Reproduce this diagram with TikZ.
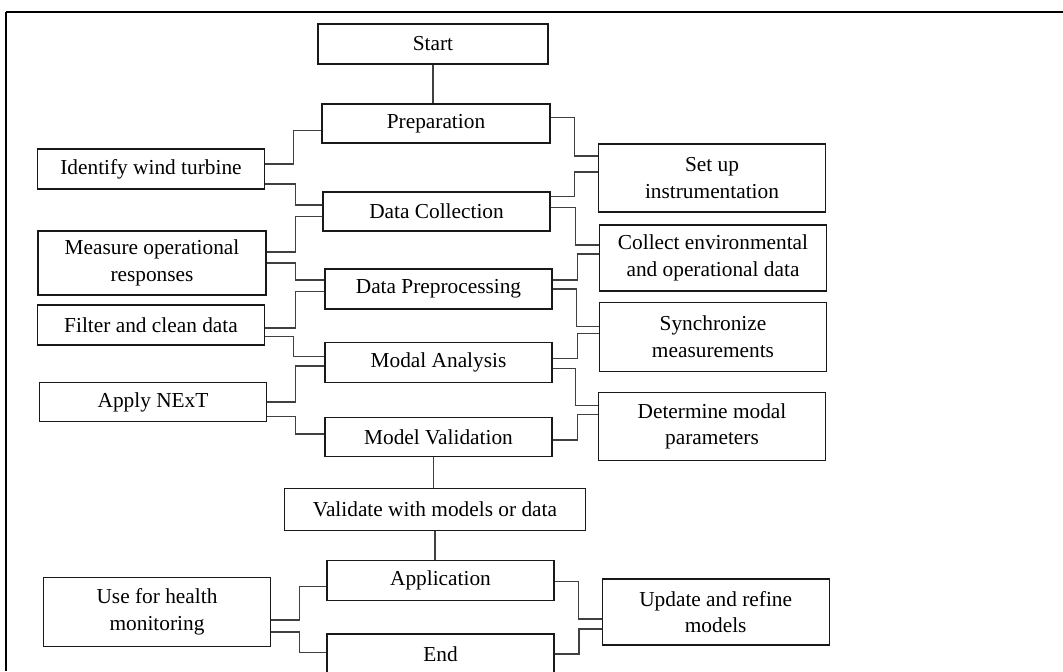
\documentclass[tikz,border=0pt]{standalone}
\usepackage{fontspec}
\setmainfont{Liberation Serif}
\begin{document}
\begin{tikzpicture}[x=0.75pt,y=-0.75pt,
  box/.style={draw=black!90, line width=1pt, inner sep=0pt, align=center,
              font=\fontsize{16}{20}\selectfont},
  sz/.style 2 args={minimum width=#1*0.75pt, minimum height=#2*0.75pt},
  link/.style={draw=black!75, line width=1pt}]
\useasboundingbox (0,0) rectangle (1063,671);

% frame
\draw[line width=2.2pt] (6,12) -- (1063,12);
\draw[line width=1pt] (6,12) -- (6,671);

% main column
\node[box, sz={230}{40}] (start) at (433,44)    {Start};
\node[box, sz={228}{39}] (prep)  at (436,123.5) {Preparation};
\node[box, sz={227}{39}] (coll)  at (436.5,211.5) {Data Collection};
\node[box, sz={227}{40}] (pre)   at (438.5,289) {Data Preprocessing};
\node[box, sz={227}{40}] (modal) at (438.5,362.5) {Modal Analysis};
\node[box, sz={227}{39}] (mval)  at (438.5,437) {Model Validation};
\node[box, sz={301}{42}] (valid) at (435,509.5) {Validate with models or data};
\node[box, sz={227}{40}] (app)   at (440.5,580.7) {Application};
\node[box, sz={227}{40}] (fin)   at (440.5,654) {End};

% left column
\node[box, sz={227}{40}] (ident)  at (151,169) {Identify wind turbine};
\node[box, sz={228}{64}] (meas)   at (152,263) {Measure operational\\responses};
\node[box, sz={227}{40}] (filt)   at (151,325) {Filter and clean data};
\node[box, sz={227}{39}] (next)   at (153,402) {Apply NExT};
\node[box, sz={227}{69}] (health) at (157,612) {Use for health\\monitoring};

% right column
\node[box, sz={227}{68}] (setup)  at (712,178)   {Set up\\instrumentation};
\node[box, sz={227}{66}] (env)    at (713,258)   {Collect environmental\\and operational data};
\node[box, sz={227}{69}] (sync)   at (713,336.7) {Synchronize\\measurements};
\node[box, sz={227}{68}] (param)  at (712,426.5) {Determine modal\\parameters};
\node[box, sz={227}{66}] (update) at (715.7,612) {Update and refine\\models};

% vertical links
\draw[link] (start.south) -- (start.south |- prep.north);
\draw[link] ([xshift=-3.6pt]mval.south) -- ([xshift=-3.6pt]mval.south |- valid.north);
\draw[link] (valid.south) -- (valid.south |- app.north);

% left elbows
\draw[link] ([shift={(0,-5)}]ident.east)   -- ++(28.5,0) |- ([shift={(0,7)}]prep.west);
\draw[link] ([shift={(0,15)}]ident.east)   -- ++(30.5,0) |- ([shift={(0,-6.5)}]coll.west);
\draw[link] ([shift={(0,-11)}]meas.east)   -- ++(29,0)   |- ([shift={(0,5)}]coll.west);
\draw[link] (meas.east)                    -- ++(28.5,0) |- ([shift={(0,-9)}]pre.west);
\draw[link] ([shift={(0,3)}]filt.east)     -- ++(30.5,0) |- ([shift={(0,2.7)}]pre.west);
\draw[link] ([shift={(0,11.7)}]filt.east)  -- ++(28.5,0) |- ([shift={(0,-6)}]modal.west);
\draw[link] (next.east)                    -- ++(28,0)   |- ([shift={(0,3.5)}]modal.west);
\draw[link] ([shift={(0,14.7)}]next.east)  -- ++(28,0)   |- ([shift={(0,-3)}]mval.west);
\draw[link] ([shift={(0,8)}]health.east)   -- ++(28.5,0) |- ([shift={(0,6)}]app.west);
\draw[link] ([shift={(0,20)}]health.east)  -- ++(28.5,0) |- ([shift={(0,-1.7)}]fin.west);

% right elbows
\draw[link] ([shift={(0,-5.8)}]prep.east)  -- ++(24,0)   |- ([shift={(0,-22)}]setup.west);
\draw[link] ([shift={(0,-14.8)}]coll.east) -- ++(24,0)   |- ([shift={(0,-6)}]setup.west);
\draw[link] ([shift={(0,-3.8)}]coll.east)  -- ++(25,0)   |- ([shift={(0,-13)}]env.west);
\draw[link] ([shift={(0,-9)}]pre.east)     -- ++(25,0)   |- ([shift={(0,-4)}]env.west);
\draw[link] (pre.east)                     -- ++(24,0)   |- ([shift={(0,-10)}]sync.west);
\draw[link] ([shift={(0,-4)}]modal.east)   -- ++(24.7,0) |- ([shift={(0,-3.4)}]sync.west);
\draw[link] ([shift={(0,6)}]modal.east)    -- ++(23,0)   |- ([shift={(0,-21)}]param.west);
\draw[link] ([shift={(0,3)}]mval.east)     -- ++(24.7,0) |- ([shift={(0,-12)}]param.west);
\draw[link] ([shift={(0,1)}]app.east)      -- ++(23.7,0) |- ([shift={(0,7)}]update.west);
\draw[link] (fin.east)                     -- ++(24.3,0) |- ([shift={(0,17)}]update.west);
\end{tikzpicture}
\end{document}
